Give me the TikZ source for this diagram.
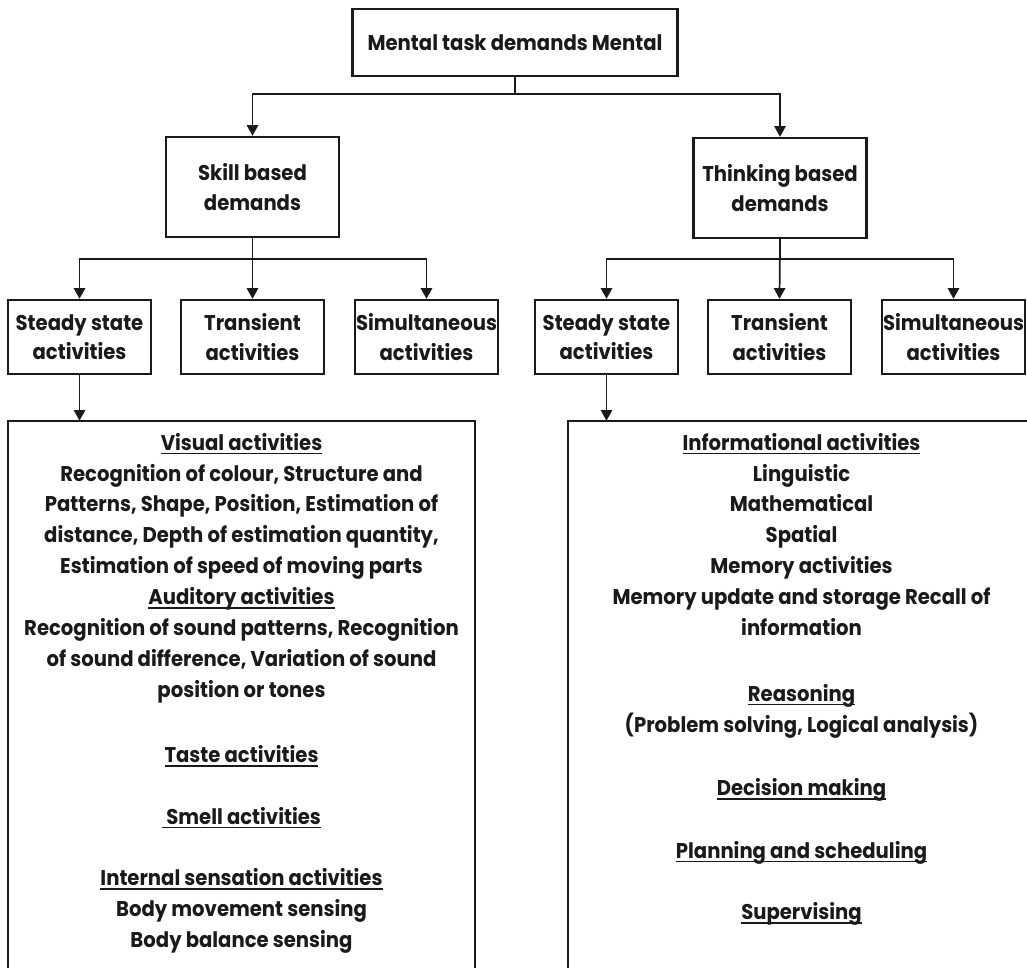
\documentclass[tikz,border=0pt]{standalone}
\usepackage{fontspec}
\setmainfont{Poppins}[FakeStretch=0.92]
\usetikzlibrary{arrows.meta}

\definecolor{ink}{HTML}{1A1A1A}

% underlined heading: rule drawn below the baseline, crossing descenders
\newsavebox{\ulnbox}
\newcommand{\uln}[1]{\leavevmode\sbox{\ulnbox}{#1}%
  \rlap{\rule[-3pt]{\wd\ulnbox}{1.1pt}}\usebox{\ulnbox}}

\begin{document}
\begin{tikzpicture}[x=0.75pt,y=-0.75pt,
  every node/.style={text=ink},
  boxtxt/.style={font=\bfseries\fontsize{16}{22}\selectfont},
  bodytxt/.style={font=\bfseries\fontsize{16}{23.2}\selectfont, align=center, inner sep=0pt},
  box/.style={draw=ink, line width=1.8pt, align=center, inner sep=0pt, boxtxt},
  topbox/.style={box, minimum width=243.75pt, minimum height=50.25pt},
  midbox/.style={box, minimum width=129.75pt, minimum height=75pt},
  leafbox/.style={box, minimum width=107.25pt, minimum height=55.5pt},
  bigbox/.style={draw=none, inner sep=0pt, minimum width=350.25pt, minimum height=420pt},
  conn/.style={draw=ink, line width=1.3pt},
  arr/.style={conn, -{Triangle[length=8pt,width=8.5pt]}},
  frame/.style={draw=ink, line width=1.8pt}
]
\clip (0,0) rectangle (1027,967);
\fill[white] (0,0) rectangle (1027,967);

% root
\node[topbox] (top) at (515,42.5) {Mental task demands Mental};

% second level
\node[midbox] (skill) at (252.5,187) {Skill based\\demands};
\node[midbox] (think) at (780,188) {Thinking based\\demands};

% third level
\node[leafbox] (ssA)  at (79.5,337)  {Steady state\\activities};
\node[leafbox] (trA)  at (252.5,337) {Transient\\activities};
\node[leafbox] (simA) at (426.5,337) {Simultaneous\\activities};
\node[leafbox] (ssB)  at (606.5,337) {Steady state\\activities};
\node[leafbox] (trB)  at (779.5,337) {Transient\\activities};
\node[leafbox] (simB) at (953.5,337) {Simultaneous\\activities};

% detail panels (open at the bottom)
\node[bigbox] (vis) at (241.5,701) {};
\node[bigbox] (info) at (801.5,701) {};
\draw[frame] (vis.south west) -- (vis.north west) -- (vis.north east) -- (vis.south east);
\draw[frame] (info.south west) -- (info.north west) -- (info.north east) -- (info.south east);

% bus levels
\coordinate (busA) at (0,94);
\coordinate (busB) at (0,259);

% connectors
\draw[arr] (top.south) -- (top.south |- busA) -| (skill.north);
\draw[arr] (top.south) -- (top.south |- busA) -| (think.north);

\draw[arr] (skill.south) -- (skill.south |- busB) -| (ssA.north);
\draw[arr] (skill.south) -- (trA.north);
\draw[arr] (skill.south) -- (skill.south |- busB) -| (simA.north);

\draw[arr] (think.south) -- (think.south |- busB) -| (ssB.north);
\draw[arr] (think.south) -- (trB.north);
\draw[arr] (think.south) -- (think.south |- busB) -| (simB.north);

\draw[arr] (ssA.south) -- (ssA.south |- vis.north);
\draw[arr] (ssB.south) -- (ssB.south |- info.north);

% panel texts
\node[bodytxt, anchor=north] (visT) at ([yshift=-9pt]vis.north) {%
\uln{Visual activities}\\
Recognition of colour, Structure and\\
Patterns, Shape, Position, Estimation of\\
distance, Depth of estimation quantity,\\
Estimation of speed of moving parts\\
\uln{Auditory activities}\\
Recognition of sound patterns, Recognition\\
of sound difference, Variation of sound\\
position or tones\\[25.5pt]
\uln{Taste activities}\\[23pt]
\uln{\ Smell activities}\\[23pt]
\uln{Internal sensation activities}\\
Body movement sensing\\
Body balance sensing};

\node[bodytxt, anchor=north] (infoT) at ([yshift=-9pt]info.north) {%
\uln{Informational activities}\\
Linguistic\\
Mathematical\\
Spatial\\
Memory activities\\
Memory update and storage Recall of\\
information\\[26pt]
\uln{Reasoning}\\
(Problem solving, Logical analysis)\\[24.5pt]
\uln{Decision making}\\[23.5pt]
\uln{Planning and scheduling}\\[23pt]
\uln{Supervising}};
\end{tikzpicture}
\end{document}
